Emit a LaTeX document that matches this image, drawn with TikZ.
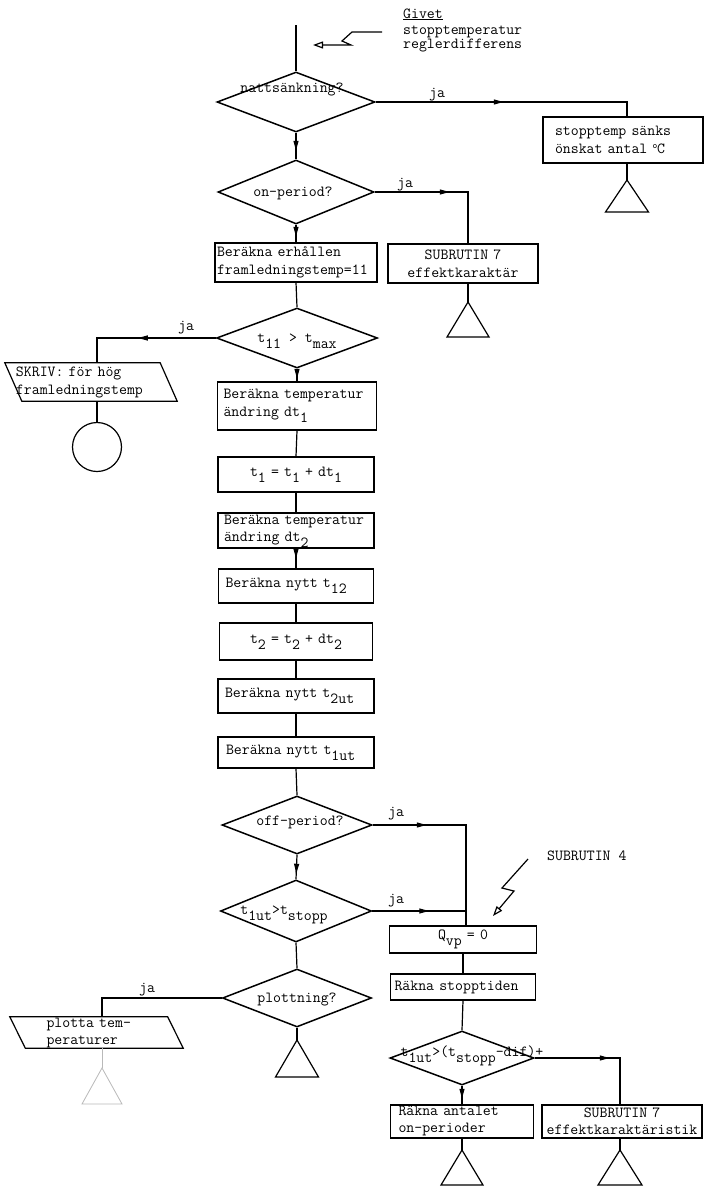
\documentclass[tikz,border=0pt]{standalone}
\usetikzlibrary{arrows.meta,decorations.markings,shapes.geometric,calc}
\newcommand\lo[1]{\raisebox{-6pt}{#1}}
\newcommand\slo[1]{\smash{\raisebox{-6pt}{#1}}}
\newcommand\termtri[4]{\draw[#4] (#1) -- ++(-#2,#3) -- ++({2*#2},0) -- cycle;}
\begin{document}
\begin{tikzpicture}[x=1pt,y=-1pt,
  every node/.style={font=\ttfamily\fontsize{15.4}{18}\selectfont, inner sep=0pt},
  ln/.style={line width=1.2pt},
  faded/.style={line width=0.8pt, gray!55},
  bx/.style={draw, line width=1.2pt, align=left},
  bxc/.style={draw, line width=1.2pt, align=center},
  dia/.style={draw, diamond, line width=1.5pt, inner sep=0pt},
  marr/.style={ln, postaction={decorate}, decoration={markings, mark=at position #1 with {\arrow{Latex[length=12pt,width=5.5pt]}}}},
  openarr/.style={ln, -{Triangle[open,length=10pt,width=7pt]}},
  lbl/.style={anchor=base},
  txt/.style={anchor=base}]
\fill[white] (0,0) rectangle (705,1186);
\useasboundingbox (0,0) rectangle (705,1186);

% --- top input
\coordinate (start) at (296,25);
\node[txt, anchor=base west] (giv1) at (403,18) {\underline{Givet}};
\node[txt, anchor=base west] (giv2) at (403,34) {stopptemperatur};
\node[txt, anchor=base west] (giv3) at (403,48) {reglerdifferens};
\coordinate (g0) at (382,32);
\coordinate (g1) at (313,45);
\draw[openarr] (g0) -- (352,32) -- (342,41) -- (351,45) -- (g1);

% --- decisions (shapes)
\node[dia, minimum width=158pt, minimum height=60pt] (natt) at (296,102) {};
\node[txt] (natt-t) at (292,92) {nattsänkning?};
\node[dia, minimum width=156pt, minimum height=64pt] (onp) at (296,192) {};
\node[txt] (onp-t) at (293,196) {on-period?};
\node[dia, minimum width=161pt, minimum height=60pt] (t11) at (297,338) {};
\node[txt] (t11-t) at (297,342) {t\lo{11} > t\lo{max}};
\node[dia, minimum width=150pt, minimum height=58pt] (off) at (297,825) {};
\node[txt] (off-t) at (300,825) {off-period?};
\node[dia, minimum width=151pt, minimum height=62pt] (t1ut) at (296,911) {};
\node[txt] (t1ut-t) at (284,914) {t\lo{1ut}>t\lo{stopp}};
\node[dia, minimum width=149pt, minimum height=58pt] (plot) at (297,998) {};
\node[txt] (plot-t) at (297,1002) {plottning?};
\node[dia, minimum width=144pt, minimum height=54pt] (d3) at (462,1058) {};
\node[txt] (d3-t) at (472,1056) {t\lo{1ut}>(t\lo{stopp}-dif)+};

% --- boxes
\node[bx, minimum height=46pt, text width=136pt, inner xsep=12pt] (stopp) at (623,140) {stopptemp sänks\\önskat antal \raisebox{5pt}{\small o}C};
\node[bxc, minimum height=39pt, text width=146pt, inner xsep=2pt] (sub7) at (463,263.5) {SUBRUTIN 7\\effektkaraktär};
\node[bx, minimum height=39pt, text width=158pt, inner xsep=2pt] (b1) at (296,262.5) {Beräkna erhållen\\framledningstemp=11};
\node[bx, minimum height=48pt, text width=147pt, inner xsep=6pt] (b2) at (297,406) {Beräkna temperatur\\ändring dt\lo{1}};
\node[bxc, minimum height=35pt, text width=152pt, inner xsep=2pt] (b3) at (296,474.5) {t\lo{1} = t\lo{1} + dt\lo{1}};
\node[bx, minimum height=35pt, text width=144pt, inner xsep=6pt, font=\ttfamily\fontsize{15.4}{17}\selectfont] (b4) at (296,530.5) {Beräkna temperatur\\ändring dt\slo{2}};
\node[bx, minimum height=34pt, text width=141pt, inner xsep=7pt] (b5) at (296,586) {Beräkna nytt t\lo{12}};
\node[bxc, minimum height=37pt, text width=149pt, inner xsep=2pt] (b6) at (296,641.5) {t\lo{2} = t\lo{2} + dt\lo{2}};
\node[bx, minimum height=34pt, text width=142pt, inner xsep=7pt] (b7) at (296,696) {Beräkna nytt t\lo{2ut}};
\node[bx, minimum height=31pt, text width=140pt, inner xsep=8pt] (b8) at (296,752.5) {Beräkna nytt t\lo{1ut}};

\node[bxc, minimum height=27pt, text width=143pt, inner xsep=2pt] (qvp) at (463,939.5) {Q\lo{vp} = 0};
\node[bx, minimum height=26pt, text width=137pt, inner xsep=4pt] (rst) at (463,987) {Räkna stopptiden};
\node[bx, minimum height=33pt, text width=127pt, inner xsep=8pt, font=\ttfamily\fontsize{15.4}{17}\selectfont] (rant) at (462,1121.5) {Räkna antalet\\\underline{on-perioder}};
\node[bxc, minimum height=33pt, text width=156pt, inner xsep=2pt, font=\ttfamily\fontsize{15.4}{17}\selectfont] (sub7b) at (622,1121.5) {SUBRUTIN 7\\effektkaraktäristik};

% --- output parallelograms and connector circle
\node[minimum width=155pt, minimum height=38pt, text width=150pt, align=left] (skriv) at (91,382) {SKRIV: för hög\\framledningstemp};
\draw[ln] ([xshift=-8.5pt]skriv.north west) -- ([xshift=-8.5pt]skriv.north east) -- ([xshift=8.5pt]skriv.south east) -- ([xshift=8.5pt]skriv.south west) -- cycle;
\node[minimum width=157.5pt, minimum height=31pt, text width=100pt, align=left, font=\ttfamily\fontsize{15.4}{17}\selectfont] (plotta) at (96.5,1032.5) {plotta tem-\\peraturer};
\draw[ln] ([xshift=-7.75pt]plotta.north west) -- ([xshift=-7.75pt]plotta.north east) -- ([xshift=7.75pt]plotta.south east) -- ([xshift=7.75pt]plotta.south west) -- cycle;
\node[draw, circle, line width=1.2pt, minimum size=49pt] (circ) at (97,447) {};

% --- terminal triangles
\coordinate (tri1) at (627,180);
\coordinate (tri2) at (468,302);
\coordinate (tri3) at (102,1068);
\coordinate (tri4) at (297,1040);
\coordinate (tri5) at (462,1150);
\coordinate (tri6) at (620,1150);
\termtri{tri1}{21.5}{32}{ln}
\termtri{tri2}{21}{35}{ln}
\termtri{tri3}{20}{36}{faded}
\termtri{tri4}{21.5}{37}{ln}
\termtri{tri5}{21}{35}{ln}
\termtri{tri6}{22}{35}{ln}

% --- connectors
\draw[ln] (start) -- (natt.north);
\coordinate (c1) at (627,102);
\draw[marr=130pt] (natt.east) -- (c1) -- (c1 |- stopp.north);
\draw[ln] (c1 |- stopp.south) -- (tri1);
\node[lbl] (ja1) at (437,97) {ja};
\draw[marr=20pt] (natt.south) -- (onp.north);
\coordinate (c2) at (468,192);
\draw[marr=77pt] (onp.east) -- (c2) -- (c2 |- sub7.north);
\draw[ln] (c2 |- sub7.south) -- (tri2);
\node[lbl] (ja2) at (405,187) {ja};
\draw[marr=14pt] (onp.south) -- (b1.north);
\draw[ln] (b1.south) -- (t11.north);
\coordinate (c3) at (97,338);
\draw[marr=80pt] (t11.west) -- (c3) -- (c3 |- skriv.north);
\node[lbl] (ja3) at (186,330) {ja};
\draw[ln] (c3 |- skriv.south) -- (circ.north);
\draw[marr=12pt] (t11.south) -- (b2.north);
\draw[ln] (b2.south) -- (b3.north);
\draw[ln] (b3.south) -- (b4.north);
\draw[marr=12pt] (b4.south) -- (b5.north);
\draw[ln] (b5.south) -- (b6.north);
\draw[ln] (b6.south) -- (b7.north);
\draw[ln] (b7.south) -- (b8.north);
\draw[ln] (b8.south) -- (off.north);
\coordinate (c4) at (466,825);
\draw[marr=56pt] (off.east) -- (c4) -- (c4 |- qvp.north);
\node[lbl] (ja4) at (396,816) {ja};
\draw[marr=21pt] (off.south) -- (t1ut.north);
\draw[marr=59pt] (t1ut.east) -- (t1ut.east -| c4);
\node[lbl] (ja5) at (396,903) {ja};
\draw[ln] (t1ut.south) -- (plot.north);
\coordinate (c5) at (102,998);
\draw[ln] (plot.west) -- (c5) -- (c5 |- plotta.north);
\node[lbl] (ja6) at (147,992) {ja};
\draw[faded] (c5 |- plotta.south) -- (tri3);
\draw[ln] (plot.south) -- (tri4);
\draw[ln] (qvp.south) -- (rst.north);
\draw[ln] (rst.south) -- (d3.north);
\coordinate (c6) at (620,1058);
\draw[marr=77pt] (d3.east) -- (c6) -- (c6 |- sub7b.north);
\draw[marr=15pt] (d3.south) -- (rant.north);
\draw[ln] (rant.south) -- (tri5);
\draw[ln] (c6 |- sub7b.south) -- (tri6);

% --- SUBRUTIN 4 call
\node[txt, anchor=base west] (sr4) at (547,860) {SUBRUTIN 4};
\coordinate (s0) at (528,859);
\coordinate (s1) at (493,916);
\draw[openarr] (s0) -- (502,888) -- (514,891) -- (s1);
\end{tikzpicture}
\end{document}
